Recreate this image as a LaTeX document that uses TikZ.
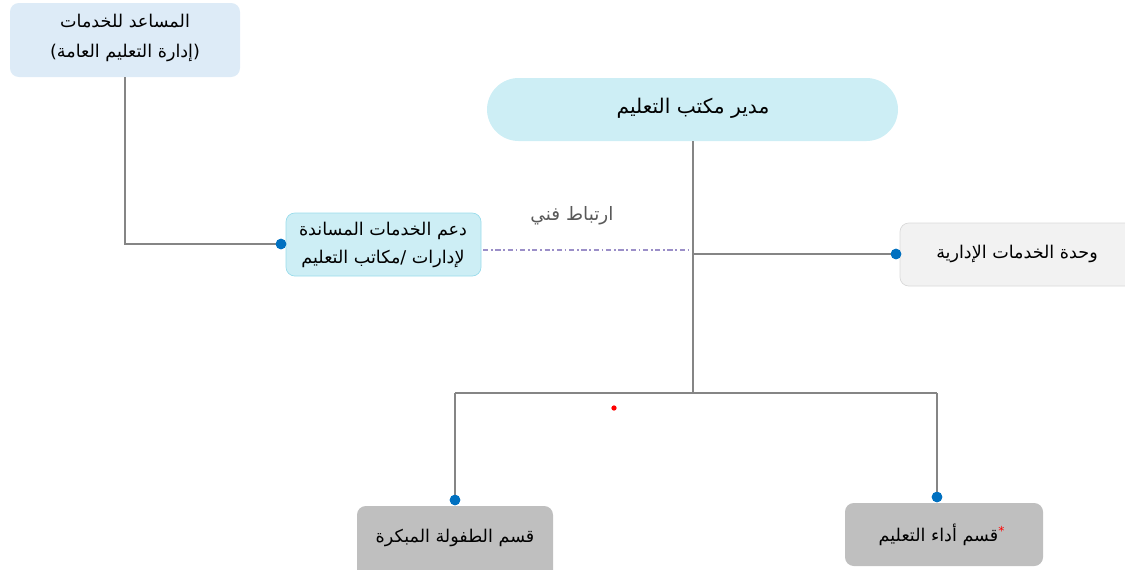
\documentclass[tikz,border=0pt]{standalone}
\usepackage{fontspec}
\TeXXeTstate=1
\newfontfamily\arabicfont[Script=Arabic]{DejaVu Sans}
\definecolor{lineg}{HTML}{858585}
\definecolor{dotblue}{HTML}{0070C0}
\definecolor{boxblue}{HTML}{DDEBF7}
\definecolor{boxcyan}{HTML}{CDEEF5}
\definecolor{boxcyanb}{HTML}{9ADCEB}
\definecolor{boxlight}{HTML}{F2F2F2}
\definecolor{boxgray}{HTML}{BFBFBF}
\definecolor{linkpurple}{HTML}{9B8FC8}
\begin{document}
\begin{tikzpicture}[x=0.02cm,y=-0.02cm,
  boxbase/.style={inner sep=0pt,font=\arabicfont\fontsize{10}{17}\selectfont,align=center,text=black},
  conn/.style={draw=lineg,line width=0.6pt},
  bdot/.style={circle,fill=dotblue,inner sep=0pt,minimum size=6pt}]
\useasboundingbox (0,0) rectangle (1125,569);
% boxes
\fill[boxblue,rounded corners=5pt] (10,3) rectangle (240,77);
\node[boxbase,font=\arabicfont\fontsize{10}{17.5}\selectfont] (aux) at (125,38) {\beginR المساعد للخدمات\endR\\\beginR (إدارة التعليم العامة)\endR};
\fill[boxcyan,rounded corners=18pt] (487,78) rectangle (898,141);
\node[boxbase,font=\arabicfont\fontsize{11.5}{14}\selectfont] (dir) at (693,108) {\beginR مدير مكتب التعليم\endR};
\filldraw[fill=boxcyan,draw=boxcyanb,line width=0.4pt,rounded corners=5pt] (286,213) rectangle (481,276);
\node[boxbase,font=\arabicfont\fontsize{10}{16}\selectfont] (sup) at (383,245) {\beginR دعم الخدمات المساندة\endR\\\beginR لإدارات /مكاتب التعليم\endR};
\filldraw[fill=boxlight,draw=black!15,line width=0.4pt,rounded corners=5pt] (900,223) rectangle (1135,286);
\node[boxbase] (adm) at (1017,254) {\beginR وحدة الخدمات الإدارية\endR};
\fill[boxgray,rounded corners=5pt] (357,506) rectangle (553,580);
\node[boxbase] (early) at (455,538) {\beginR قسم الطفولة المبكرة\endR};
\fill[boxgray,rounded corners=5pt] (845,503) rectangle (1043,566);
\node[boxbase] (perf) at (942,535) {\beginR\textsuperscript{\textcolor{red}{*}}قسم أداء التعليم\endR};
% connector coordinates
\coordinate (auxb) at (125,77);
\coordinate (auxc) at (125,244);
\node[bdot] (d1) at (281,244) {};
\coordinate (dirb) at (693,141);
\coordinate (j1) at (693,254);
\coordinate (j2) at (693,393);
\coordinate (l1) at (455,393);
\coordinate (r1) at (937,393);
\node[bdot] (d2) at (896,254) {};
\node[bdot] (d3) at (455,500) {};
\node[bdot] (d4) at (937,497) {};
\draw[conn] (auxb) -- (auxc) -- (d1.center);
\draw[conn] (dirb) -- (j2);
\draw[conn] (j1) -- (d2.center);
\draw[conn] (l1) -- (r1);
\draw[conn] (l1) -- (d3.center);
\draw[conn] (r1) -- (d4.center);
\node[bdot] at (281,244) {};
\node[bdot] at (896,254) {};
\node[bdot] at (455,500) {};
\node[bdot] at (937,497) {};
% technical link
\coordinate (la) at (483,250);
\coordinate (lb) at (690,250);
\draw[linkpurple,line width=0.6pt,dash pattern=on 3pt off 1.5pt on 1pt off 1.5pt] (la) -- (lb);
\node[boxbase,text=black!65,font=\arabicfont\fontsize{10.5}{14}\selectfont] (lnk) at (572,216) {\beginR ارتباط فني\endR};
\node[circle,fill=red,inner sep=0pt,minimum size=3pt] (rd) at (614,408) {};
\end{tikzpicture}
\end{document}
